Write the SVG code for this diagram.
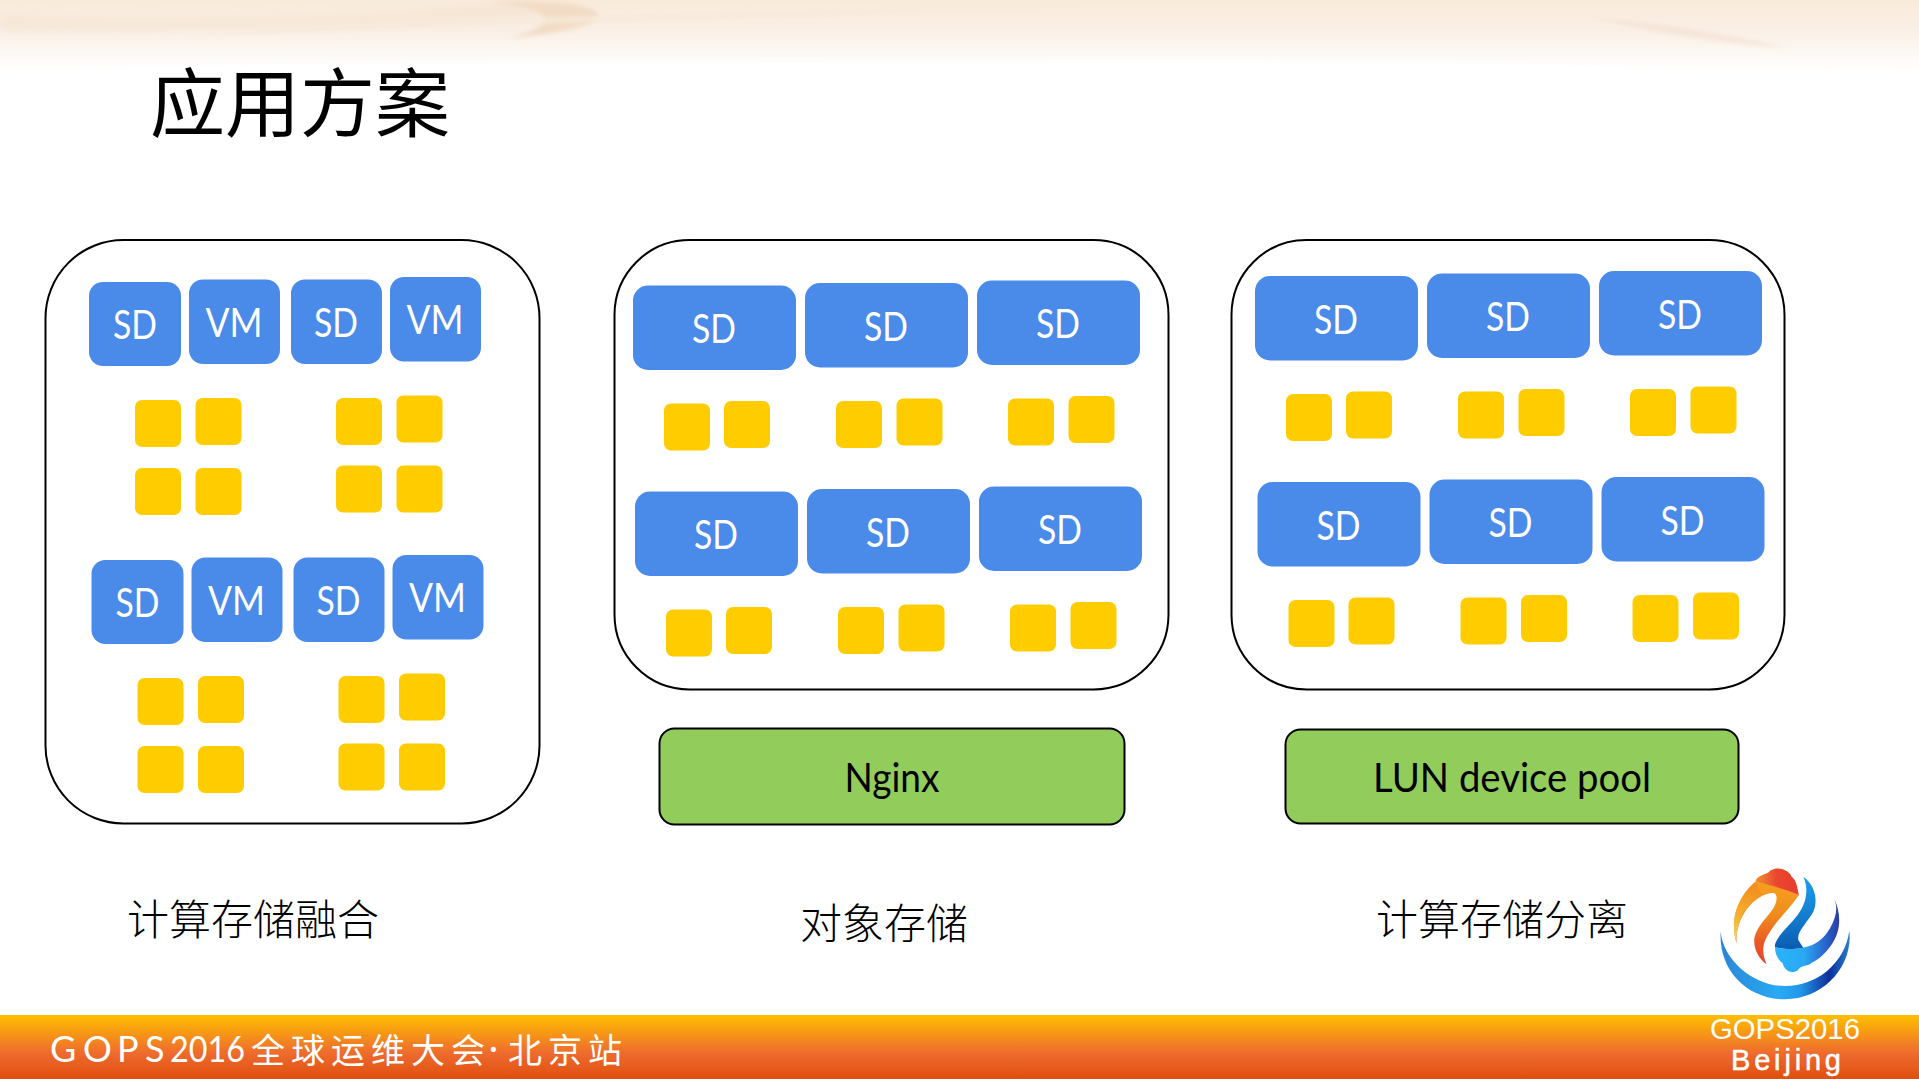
<svg xmlns="http://www.w3.org/2000/svg" xmlns:xlink="http://www.w3.org/1999/xlink" width="1919" height="1079" viewBox="0 0 1919 1079">
<style>
.panel{fill:#fff;stroke:#000;stroke-width:2}
.b{fill:#4a8ae8}
.y{fill:#ffcc00}
.g{fill:#92cd5c;stroke:#000;stroke-width:2}
.w{fill:#fff;font-family:"Lato","Noto Sans",sans-serif;font-size:40px;text-anchor:middle}
.k{fill:#000;font-family:"Lato","Noto Sans",sans-serif;font-size:40px;text-anchor:middle}
.cn{fill:#000;font-family:"Noto Sans CJK SC",sans-serif;font-size:42px;font-weight:300}
</style>
<defs>
<filter id="soft" x="-10%" y="-60%" width="120%" height="220%"><feGaussianBlur stdDeviation="5"/></filter>
<filter id="soft2" x="-10%" y="-60%" width="120%" height="220%"><feGaussianBlur stdDeviation="2"/></filter>
<linearGradient id="bar" x1="0" y1="0" x2="0" y2="1"><stop offset="0" stop-color="#ffc000"/><stop offset=".6" stop-color="#ee6a2e"/><stop offset="1" stop-color="#df4f0e"/></linearGradient>
<linearGradient id="top" gradientUnits="userSpaceOnUse" x1="0" y1="0" x2="0" y2="72"><stop offset="0" stop-color="#f9eadb"/><stop offset=".45" stop-color="#faf0e6"/><stop offset=".75" stop-color="#fdf9f4"/><stop offset="1" stop-color="#fff"/></linearGradient>
<linearGradient id="cres" gradientUnits="userSpaceOnUse" x1="92" y1="300" x2="480" y2="300"><stop offset="0" stop-color="#2a86d6"/><stop offset=".45" stop-color="#29aaf5"/><stop offset=".62" stop-color="#2296e8"/><stop offset=".84" stop-color="#0c2f9c"/><stop offset="1" stop-color="#2a80d0"/></linearGradient>
<linearGradient id="or" gradientUnits="userSpaceOnUse" x1="0" y1="90" x2="0" y2="313"><stop offset="0" stop-color="#f59c1e"/><stop offset=".35" stop-color="#f08a1e"/><stop offset=".7" stop-color="#ea5a25"/><stop offset="1" stop-color="#e04530"/></linearGradient>
<linearGradient id="tail" gradientUnits="userSpaceOnUse" x1="140" y1="248" x2="195" y2="90"><stop offset="0" stop-color="#f0e070"/><stop offset=".45" stop-color="#f5b030"/><stop offset="1" stop-color="#f59020"/></linearGradient>
<linearGradient id="red" gradientUnits="userSpaceOnUse" x1="200" y1="0" x2="300" y2="0"><stop offset="0" stop-color="#f08a30"/><stop offset=".6" stop-color="#e9472f"/><stop offset="1" stop-color="#e8402e"/></linearGradient>
<linearGradient id="bl" gradientUnits="userSpaceOnUse" x1="0" y1="50" x2="0" y2="265"><stop offset="0" stop-color="#1ca0ea"/><stop offset=".45" stop-color="#1584d6"/><stop offset="1" stop-color="#0a5cb2"/></linearGradient>
<linearGradient id="bl2" gradientUnits="userSpaceOnUse" x1="255" y1="0" x2="450" y2="0"><stop offset="0" stop-color="#2ab2fa"/><stop offset=".45" stop-color="#2aa8f4"/><stop offset=".8" stop-color="#2860c8"/><stop offset="1" stop-color="#2a3a9c"/></linearGradient>
<g id="blk4">
<g><rect class="b" x="89" y="282" width="92" height="84" rx="14"/><text class="w" x="135" y="339" textLength="44" lengthAdjust="spacingAndGlyphs">SD</text></g>
<g><rect class="b" x="189" y="279.500" width="91" height="84.500" rx="14"/><text class="w" x="234" y="337" textLength="57" lengthAdjust="spacingAndGlyphs">VM</text></g>
<g><rect class="b" x="291" y="279.500" width="91" height="84.500" rx="14"/><text class="w" x="336" y="337" textLength="44" lengthAdjust="spacingAndGlyphs">SD</text></g>
<g><rect class="b" x="390" y="277" width="91" height="84.500" rx="14"/><text class="w" x="435" y="334" textLength="57" lengthAdjust="spacingAndGlyphs">VM</text></g>
<rect class="y" x="135" y="400" width="46" height="47" rx="7"/><rect class="y" x="195.500" y="398" width="46" height="47" rx="7"/>
<rect class="y" x="336" y="398" width="46" height="47" rx="7"/><rect class="y" x="396.500" y="395.500" width="46" height="47" rx="7"/>
<rect class="y" x="135" y="468" width="46" height="47" rx="7"/><rect class="y" x="195.500" y="468" width="46" height="47" rx="7"/>
<rect class="y" x="336" y="465.500" width="46" height="47" rx="7"/><rect class="y" x="396.500" y="465.500" width="46" height="47" rx="7"/>
</g>
<g id="blk6">
<g><rect class="b" x="633" y="285.500" width="163" height="84.500" rx="15"/><text class="w" x="714" y="343" textLength="44" lengthAdjust="spacingAndGlyphs">SD</text></g>
<g><rect class="b" x="805" y="283" width="163" height="84.500" rx="15"/><text class="w" x="886" y="340.500" textLength="44" lengthAdjust="spacingAndGlyphs">SD</text></g>
<g><rect class="b" x="977" y="280.500" width="163" height="84.500" rx="15"/><text class="w" x="1058" y="338" textLength="44" lengthAdjust="spacingAndGlyphs">SD</text></g>
<rect class="y" x="664" y="403.500" width="46" height="47" rx="7"/><rect class="y" x="724" y="401" width="46" height="47" rx="7"/>
<rect class="y" x="836" y="401" width="46" height="47" rx="7"/><rect class="y" x="896.500" y="398.500" width="46" height="47" rx="7"/>
<rect class="y" x="1008" y="398.500" width="46" height="47" rx="7"/><rect class="y" x="1068.500" y="396" width="46" height="47" rx="7"/>
</g>
</defs>
<rect width="1919" height="1079" fill="#fff"/>
<g id="banner"><path d="M-20 -20H1940V74C1700 68 1500 60 1200 60C800 60 300 62 -20 68Z" fill="url(#top)" filter="url(#soft2)"/>
<path d="M0 16C160 22 360 18 470 6C520 0 560 2 590 8C520 22 300 30 0 30Z" fill="#f5e5d4" filter="url(#soft)"/>
<path d="M490 2C560 0 595 6 598 14C600 24 570 32 510 38C550 26 570 12 490 2Z" fill="#f2dcc6" filter="url(#soft2)"/>
<path d="M190 36C300 24 600 14 1100 6C800 18 400 24 190 36Z" fill="#f7e9da" filter="url(#soft2)"/>
<path d="M1590 18C1650 20 1720 34 1790 48C1730 44 1650 32 1590 18Z" fill="#f6e5d8" filter="url(#soft2)"/></g>
<text id="title" x="150" y="131" font-family="Noto Sans CJK SC,sans-serif" font-size="75">应用方案</text>
<g id="connectors"/>
<g id="panel1"><rect class="panel" x="45.500" y="240" width="494" height="583.500" rx="78"/>
<use xlink:href="#blk4"/><use xlink:href="#blk4" x="2.500" y="278"/></g>
<g id="panel2"><rect class="panel" x="614.500" y="240" width="554" height="449.500" rx="75"/>
<use xlink:href="#blk6"/><use xlink:href="#blk6" x="2" y="206"/></g>
<g id="panel3"><rect class="panel" x="1231.500" y="240" width="553" height="449.500" rx="75"/>
<use xlink:href="#blk6" x="622" y="-9.500"/><use xlink:href="#blk6" x="624.500" y="196.500"/></g>
<g id="nginx"><rect class="g" x="659.500" y="728.500" width="465" height="96" rx="15"/><text class="k" x="892" y="792" textLength="95" lengthAdjust="spacingAndGlyphs">Nginx</text></g>
<g id="lun"><rect class="g" x="1285.500" y="729.500" width="453" height="94" rx="15"/><text class="k" x="1512" y="792" textLength="278" lengthAdjust="spacingAndGlyphs">LUN device pool</text></g>
<text id="l1" class="cn" x="127" y="935">计算存储融合</text>
<text id="l2" class="cn" x="800" y="939">对象存储</text>
<text id="l3" class="cn" x="1376" y="935">计算存储分离</text>
<g id="footer"><rect y="1015" width="1919" height="64" fill="url(#bar)"/>
<text fill="#fff" font-family="Lato,sans-serif" font-size="36" y="1062" x="50 83 117 145">GOPS</text>
<text fill="#fff" font-family="Lato,sans-serif" font-size="36" y="1062" x="170" textLength="75" lengthAdjust="spacingAndGlyphs">2016</text>
<text fill="#fff" font-family="Noto Sans CJK SC,sans-serif" font-size="34" y="1063" x="251 291 331 371 411 451">全球运维大会</text>
<text fill="#fff" font-family="Lato,sans-serif" font-size="34" y="1060" x="489">·</text>
<text fill="#fff" font-family="Noto Sans CJK SC,sans-serif" font-size="34" y="1063" x="508 548 588">北京站</text>
<text fill="#fff" font-family="Liberation Sans,sans-serif" font-size="29" x="1710" y="1039" textLength="150" lengthAdjust="spacingAndGlyphs">GOPS2016</text>
<text fill="#fff" stroke="#fff" stroke-width=".5" font-family="Liberation Sans,sans-serif" font-size="29" x="1731" y="1070" textLength="110" lengthAdjust="spacing">Beijing</text></g>
<g id="logo" transform="translate(1690 860) scale(.33333)">
<path fill="url(#cres)" d="M92 215C100 300 190 378 285 378C380 378 465 310 478 212C490 320 400 418 285 418C170 418 85 330 92 215Z"/>
<path fill="url(#or)" d="M200 62C160 95 130 150 132 200C133 225 136 238 140 248C135 180 185 105 248 98C265 100 262 125 250 145C230 175 200 200 193 235C190 265 205 295 230 313C215 280 215 250 240 215C265 175 300 145 327 105C290 90 240 72 200 62Z"/>
<path fill="url(#tail)" d="M196 66C158 95 130 150 132 200C133 225 136 238 140 248C136 190 170 125 215 105Z"/>
<path fill="url(#red)" d="M196 64C203 42 232 45 240 32C270 15 300 35 305 50C320 60 322 85 327 105C290 90 240 75 196 64Z"/>
<path fill="url(#bl)" d="M340 50C375 75 385 120 370 155C350 190 320 215 325 240L340 264C315 268 285 270 255 262C250 240 290 205 315 175C345 140 360 95 340 50Z"/>
<path fill="url(#bl2)" d="M255 262C285 270 320 268 345 262C375 255 400 240 420 205C440 170 445 140 430 110C455 160 455 215 420 260C405 280 385 300 365 308C350 322 335 312 322 332C295 345 280 322 278 310C262 298 255 280 255 262Z"/>
</g>
</svg>
